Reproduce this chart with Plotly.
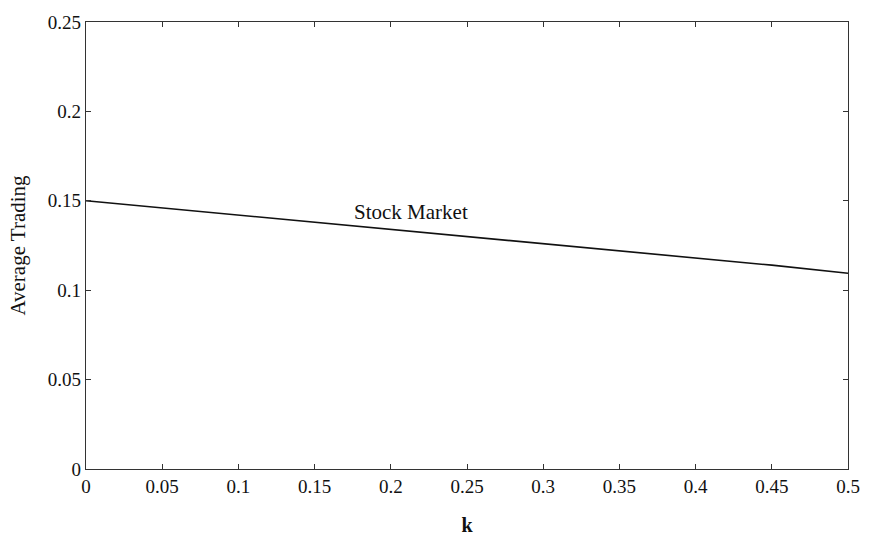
import plotly.graph_objects as go

# Average trading as a function of k
k_values = [0.0, 0.05, 0.1, 0.15, 0.2, 0.25, 0.3, 0.35, 0.4, 0.45, 0.5]
avg_trading = [0.150, 0.146, 0.142, 0.138, 0.134, 0.130, 0.126, 0.122, 0.118, 0.114, 0.1095]

x_ticks = [0, 0.05, 0.1, 0.15, 0.2, 0.25, 0.3, 0.35, 0.4, 0.45, 0.5]
x_tick_labels = ["0", "0.05", "0.1", "0.15", "0.2", "0.25", "0.3", "0.35", "0.4", "0.45", "0.5"]
y_ticks = [0, 0.05, 0.1, 0.15, 0.2, 0.25]
y_tick_labels = ["0", "0.05", "0.1", "0.15", "0.2", "0.25"]

series_label = "Stock Market"
label_pos = (0.213, 0.1435)

FONT = "Liberation Serif, Times New Roman, serif"

fig = go.Figure()
fig.add_trace(go.Scatter(
    x=k_values, y=avg_trading, mode="lines",
    line=dict(color="#111111", width=1.6),
    showlegend=False, hoverinfo="skip",
))

fig.add_annotation(
    x=label_pos[0], y=label_pos[1], text=series_label, showarrow=False,
    font=dict(family=FONT, size=21, color="#111111"),
    xanchor="center", yanchor="middle",
)

axis_common = dict(
    showline=True, linecolor="#333333", linewidth=1.3, mirror="ticks",
    ticks="inside", ticklen=5, tickwidth=1, tickcolor="#333333",
    showgrid=False, zeroline=False,
    tickfont=dict(family=FONT, size=19, color="#111111"),
)

fig.update_xaxes(
    range=[0, 0.5], tickvals=x_ticks, ticktext=x_tick_labels,
    title=dict(text="<b>k</b>", font=dict(family=FONT, size=20, color="#111111"), standoff=22),
    **axis_common,
)
fig.update_yaxes(
    range=[0, 0.25], tickvals=y_ticks, ticktext=y_tick_labels,
    title=dict(text="Average Trading", font=dict(family=FONT, size=21, color="#111111"), standoff=16),
    **axis_common,
)

fig.update_layout(
    width=872, height=546,
    margin=dict(l=86, r=24, t=14, b=77),
    paper_bgcolor="white", plot_bgcolor="white",
)

fig.write_html("out.html")
